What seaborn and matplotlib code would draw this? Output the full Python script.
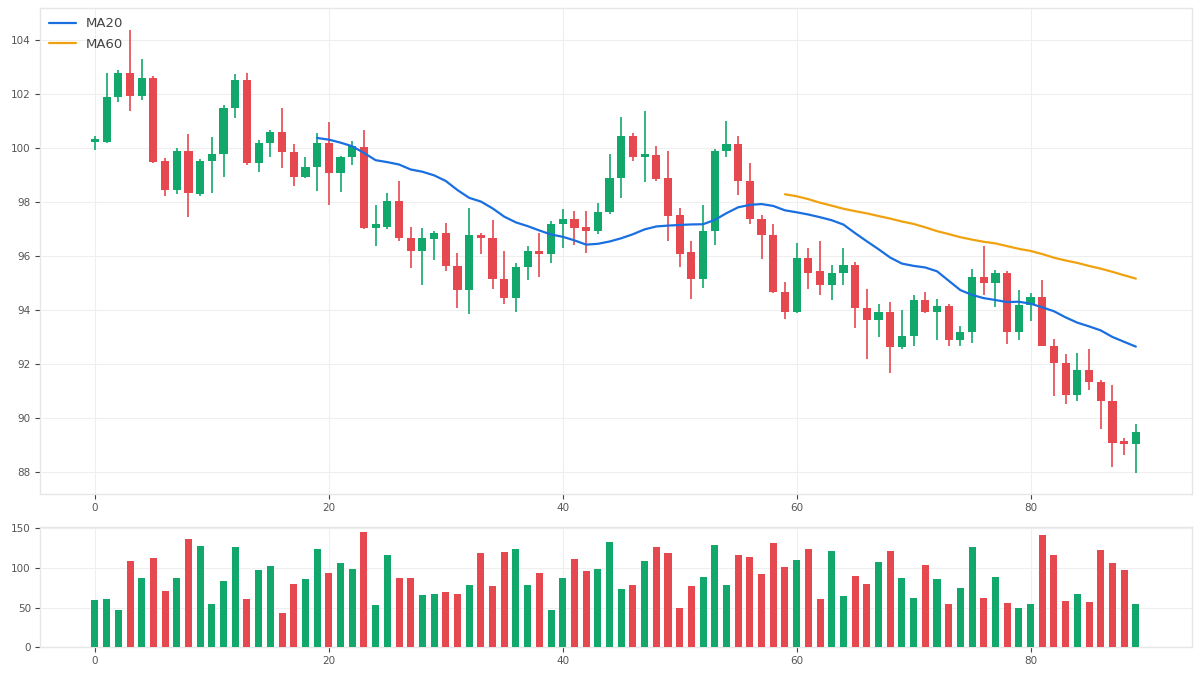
import numpy as np
import pandas as pd
import matplotlib
matplotlib.use("Agg")
import matplotlib.pyplot as plt
import seaborn as sns

# daily OHLC, one entry per session
opens = [100.25, 100.23, 101.9, 102.8, 101.95, 102.6, 99.55, 98.45, 99.9, 98.33,
         99.55, 99.8, 101.5, 102.55, 99.45, 100.2, 100.6, 99.85, 98.95, 99.3,
         100.2, 99.1, 99.7, 100.05, 97.05, 97.1, 98.05, 96.7, 96.2, 96.65,
         96.85, 95.65, 94.75, 96.8, 96.7, 95.15, 94.45, 95.6, 96.2, 96.1,
         97.2, 97.4, 97.1, 96.95, 97.65, 98.9, 100.45, 99.7, 99.75, 98.9,
         97.55, 96.15, 95.15, 96.95, 99.9, 100.15, 98.8, 97.4, 96.8, 94.7,
         93.95, 95.95, 95.45, 94.95, 95.4, 95.7, 94.1, 93.65, 93.95, 92.65,
         93.05, 94.4, 93.95, 94.15, 92.9, 93.2, 95.25, 95.0, 95.4, 93.2,
         94.2, 94.5, 92.7, 92.05, 90.85, 91.8, 91.35, 90.65, 89.15, 89.05]
highs = [100.45, 102.79, 102.89, 104.37, 103.32, 102.7, 99.63, 100.0, 100.54, 99.6,
         100.44, 101.62, 102.74, 102.8, 100.3, 100.7, 101.49, 100.15, 99.68, 100.57,
         100.97, 99.72, 100.26, 100.7, 97.91, 98.35, 98.78, 97.09, 97.06, 96.94,
         97.23, 96.14, 97.8, 96.86, 97.36, 96.19, 95.77, 96.37, 96.88, 97.3,
         97.74, 97.7, 97.7, 97.99, 99.78, 101.16, 100.57, 101.37, 100.09, 99.89,
         97.79, 96.59, 97.91, 99.99, 101.0, 100.46, 99.46, 97.52, 97.21, 95.07,
         96.51, 96.31, 96.56, 95.7, 96.31, 95.79, 94.8, 94.25, 94.33, 94.03,
         94.56, 94.68, 94.41, 94.22, 93.44, 95.54, 96.37, 95.48, 95.46, 94.74,
         94.66, 95.14, 92.95, 92.4, 92.43, 92.56, 91.43, 91.22, 89.28, 89.8]
lows = [99.95, 100.2, 101.71, 101.38, 101.81, 99.45, 98.24, 98.3, 97.46, 98.25,
        98.35, 98.94, 101.12, 99.4, 99.12, 99.7, 99.27, 98.6, 98.9, 98.41,
        97.89, 98.38, 99.37, 97.0, 96.38, 97.0, 96.59, 95.57, 94.95, 95.88,
        95.46, 94.1, 93.88, 96.1, 94.8, 94.22, 93.96, 95.14, 95.23, 95.77,
        96.31, 96.43, 96.12, 96.84, 97.56, 98.16, 99.52, 98.75, 98.81, 96.59,
        95.6, 94.41, 94.83, 96.41, 99.68, 98.26, 97.21, 95.91, 94.64, 93.67,
        93.91, 94.78, 94.59, 94.37, 94.96, 93.35, 92.19, 93.01, 91.68, 92.58,
        92.67, 93.9, 92.91, 92.67, 92.68, 92.79, 94.56, 94.12, 92.77, 92.91,
        93.6, 92.68, 90.83, 90.54, 90.64, 91.06, 89.62, 88.2, 88.66, 87.99]
closes = [100.35, 101.9, 102.8, 101.95, 102.6, 99.5, 98.45, 99.9, 98.35, 99.55,
          99.8, 101.5, 102.55, 99.45, 100.2, 100.6, 99.85, 98.95, 99.3, 100.2,
          99.1, 99.7, 100.1, 97.05, 97.2, 98.05, 96.7, 96.2, 96.7, 96.85,
          95.65, 94.75, 96.8, 96.7, 95.15, 94.45, 95.6, 96.2, 96.1, 97.2,
          97.4, 97.05, 96.95, 97.65, 98.9, 100.45, 99.7, 99.8, 98.85, 97.5,
          96.1, 95.15, 96.95, 99.9, 100.15, 98.8, 97.4, 96.8, 94.7, 93.95,
          95.95, 95.4, 94.95, 95.4, 95.7, 94.1, 93.65, 93.95, 92.65, 93.05,
          94.4, 93.95, 94.15, 92.9, 93.2, 95.25, 95.0, 95.4, 93.2, 94.2,
          94.5, 92.7, 92.05, 90.85, 91.8, 91.35, 90.65, 89.1, 89.05, 89.5]
volumes = [60, 61, 47, 109, 87, 113, 71, 87, 137, 128,
           54, 84, 127, 61, 98, 103, 43, 80, 86, 124,
           94, 106, 99, 145, 53, 116, 87, 87, 66, 67,
           70, 67, 79, 119, 77, 120, 124, 78, 94, 47,
           87, 111, 96, 99, 133, 73, 78, 109, 126, 119,
           49, 77, 89, 129, 78, 116, 114, 92, 131, 101,
           110, 124, 61, 121, 65, 90, 80, 107, 121, 87,
           62, 104, 86, 55, 75, 127, 62, 89, 56, 49,
           54, 142, 116, 58, 67, 57, 123, 106, 97, 54]

UP = "#12a86b"
DOWN = "#e5484f"

df = pd.DataFrame({"open": opens, "high": highs, "low": lows,
                   "close": closes, "volume": volumes})
df["idx"] = np.arange(len(df))
df["ma20"] = df["close"].rolling(20).mean()
df["ma60"] = df["close"].rolling(60).mean()
colors = np.where(df["close"] >= df["open"], UP, DOWN)

sns.set_style("whitegrid", {"grid.color": "#efefef", "axes.edgecolor": "#e6e6e6"})
plt.rcParams["font.family"] = ["DejaVu Sans"]

fig = plt.figure(figsize=(12, 6.75), dpi=100)
ax = fig.add_axes([0.0333, 0.2681, 0.96, 0.72])
axv = fig.add_axes([0.0333, 0.041, 0.96, 0.1787])

# candles
ax.vlines(df["idx"], df["low"], df["high"], colors=colors, linewidth=1.2, zorder=2)
body_lo = np.minimum(df["open"], df["close"])
body_h = np.maximum((df["close"] - df["open"]).abs(), 0.04)
ax.bar(df["idx"], body_h, bottom=body_lo, width=0.7, color=colors, linewidth=0, zorder=3)

sns.lineplot(data=df, x="idx", y="ma20", ax=ax, color="#1a6fe0", linewidth=1.6,
             label="MA20", zorder=4)
sns.lineplot(data=df, x="idx", y="ma60", ax=ax, color="#f0a20e", linewidth=1.6,
             label="MA60", zorder=4)

ax.set_xlim(-4.7, 93.8)
ax.set_ylim(87.2, 105.2)
ax.set_yticks(np.arange(88, 105, 2))
ax.set_xticks([0, 20, 40, 60, 80])
ax.set_xlabel("")
ax.set_ylabel("")
leg = ax.legend(loc="upper left", frameon=False, fontsize=9.5, handlelength=2.0,
                handletextpad=0.8, borderaxespad=0.3, labelspacing=0.55)
for t in leg.get_texts():
    t.set_color("#444444")

# volume
axv.bar(df["idx"], df["volume"], width=0.6, color=colors, linewidth=0, zorder=3)
axv.set_xlim(-4.7, 93.8)
axv.set_ylim(0, 152)
axv.set_yticks([0, 50, 100, 150])
axv.set_xticks([0, 20, 40, 60, 80])

for a in (ax, axv):
    a.grid(True, color="#efefef", linewidth=0.8)
    a.set_axisbelow(True)
    a.tick_params(axis="both", length=3.5, width=0.8, color="#444444",
                  labelcolor="#555555", labelsize=7.5, pad=3, bottom=True, left=True)
    for s in a.spines.values():
        s.set_color("#e6e6e6")
        s.set_linewidth(1)

plt.savefig("out.png", dpi=100)
